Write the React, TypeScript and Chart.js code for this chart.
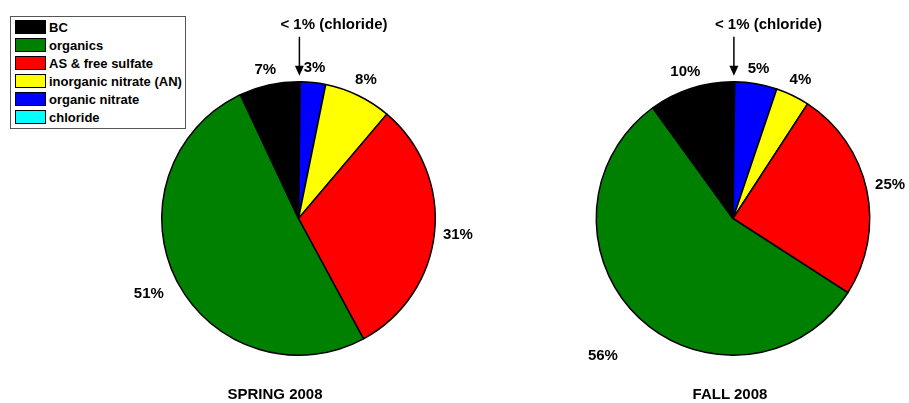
import React, { useEffect, useRef } from "react";
import { Chart, registerables } from "chart.js";

Chart.register(...registerables);

// ---- data (legend order) ----
const categories = [
  "BC",
  "organics",
  "AS & free sulfate",
  "inorganic nitrate (AN)",
  "organic nitrate",
  "chloride",
];
const colors = ["#000000", "#008000", "#FF0000", "#FFFF00", "#0000FF", "#00FFFF"];
const springValues = [7, 51, 31, 8, 3, 0.2];
const fallValues = [10, 56, 25, 4, 5, 0.2];
const springLabels = ["7%", "51%", "31%", "8%", "3%", ""];
const fallLabels = ["10%", "56%", "25%", "4%", "5%", ""];
const chlorideNote = "< 1% (chloride)";
const titles = ["SPRING 2008", "FALL 2008"];

const FONT = '"Liberation Sans", Arial, Helvetica, sans-serif';

const labelPlugin = {
  id: "pctLabels",
  afterDraw(chart: any) {
    const opts = chart.options.plugins.pctLabels || {};
    const labels: string[] = opts.labels || [];
    const extra: number[] = opts.extra || [];
    const ctx = chart.ctx;
    const meta = chart.getDatasetMeta(0);
    ctx.save();
    ctx.fillStyle = "#000";
    ctx.font = `bold 15px ${FONT}`;
    ctx.textAlign = "center";
    ctx.textBaseline = "middle";
    meta.data.forEach((arc: any, i: number) => {
      const lbl = labels[i];
      const p = arc.getProps(["x", "y", "startAngle", "endAngle", "outerRadius"], true);
      const mid = (p.startAngle + p.endAngle) / 2;
      const c = Math.cos(mid);
      const s = Math.sin(mid);
      if (lbl) {
        const w = ctx.measureText(lbl).width;
        const h = 11;
        const d =
          p.outerRadius + 8 + (extra[i] || 0) + (Math.abs(c) * w) / 2 + (Math.abs(s) * h) / 2;
        ctx.fillText(lbl, p.x + c * d, p.y + s * d);
      } else if (opts.note) {
        // arrow pointing at the tiny slice
        const tipX = p.x + c * (p.outerRadius + 6);
        const tipY = p.y + s * (p.outerRadius + 6);
        ctx.strokeStyle = "#000";
        ctx.lineWidth = 1.5;
        ctx.beginPath();
        ctx.moveTo(tipX, tipY - 39);
        ctx.lineTo(tipX, tipY - 8);
        ctx.stroke();
        ctx.beginPath();
        ctx.moveTo(tipX - 4.5, tipY - 10);
        ctx.lineTo(tipX + 4.5, tipY - 10);
        ctx.lineTo(tipX, tipY);
        ctx.closePath();
        ctx.fill();
        ctx.textAlign = "left";
        ctx.fillText(opts.note, tipX - 19, tipY - 51);
        ctx.textAlign = "center";
      }
    });
    ctx.restore();
  },
};

function PieCanvas(props: {
  values: number[];
  labels: string[];
  extra: number[];
  left: number;
  width: number;
  padding: { left: number; right: number; top: number; bottom: number };
}) {
  const ref = useRef<HTMLCanvasElement | null>(null);
  useEffect(() => {
    if (!ref.current) return;
    const order = [5, 4, 3, 2, 1, 0]; // clockwise from top: chloride, ON, AN, AS, organics, BC
    const chart = new Chart(ref.current, {
      type: "pie",
      data: {
        labels: order.map((i) => categories[i]),
        datasets: [
          {
            data: order.map((i) => props.values[i]),
            backgroundColor: order.map((i) => colors[i]),
            borderColor: "#000000",
            borderWidth: 1.5,
          },
        ],
      },
      options: {
        animation: false,
        responsive: false,
        maintainAspectRatio: false,
        layout: { padding: props.padding },
        plugins: {
          legend: { display: false },
          tooltip: { enabled: false },
          title: { display: false },
          pctLabels: {
            labels: order.map((i) => props.labels[i]),
            extra: order.map((i) => props.extra[i]),
            note: chlorideNote,
          },
        } as any,
      },
      plugins: [labelPlugin],
    });
    return () => chart.destroy();
  }, []);
  return (
    <canvas
      ref={ref}
      width={props.width}
      height={403}
      style={{ position: "absolute", left: props.left, top: 0, width: props.width, height: 403 }}
    />
  );
}

export default function App() {
  return (
    <div
      style={{
        position: "fixed",
        left: 0,
        top: 0,
        width: 909,
        height: 403,
        background: "#fff",
        fontFamily: FONT,
        overflow: "hidden",
      }}
    >
      <PieCanvas
        values={springValues}
        labels={springLabels}
        extra={[0, 7, 0, 0, 0, 0]}
        left={0}
        width={475}
        padding={{ left: 161, right: 39, top: 81, bottom: 47 }}
      />
      <PieCanvas
        values={fallValues}
        labels={fallLabels}
        extra={[0, 30, 0, 0, 0, 0]}
        left={475}
        width={434}
        padding={{ left: 120.5, right: 38.5, top: 81, bottom: 47 }}
      />
      {/* legend */}
      <div
        style={{
          position: "absolute",
          left: 10,
          top: 16,
          width: 174,
          height: 111,
          border: "1px solid #555",
          background: "#fff",
        }}
      >
        {categories.map((c, i) => (
          <div
            key={c}
            style={{
              position: "absolute",
              left: 4,
              top: 3 + i * 18,
              height: 14,
              display: "flex",
              alignItems: "center",
              whiteSpace: "nowrap",
            }}
          >
            <div
              style={{
                width: 29,
                height: 12,
                background: colors[i],
                border: "1px solid #000",
                marginRight: 3,
              }}
            />
            <span style={{ fontWeight: "bold", fontSize: 13, color: "#000" }}>{c}</span>
          </div>
        ))}
      </div>
      {/* titles */}
      {titles.map((t, i) => (
        <div
          key={t}
          style={{
            position: "absolute",
            left: i === 0 ? 175 : 630,
            width: 200,
            top: 385,
            textAlign: "center",
            fontWeight: "bold",
            fontSize: 15,
            lineHeight: "18px",
            color: "#000",
          }}
        >
          {t}
        </div>
      ))}
    </div>
  );
}
